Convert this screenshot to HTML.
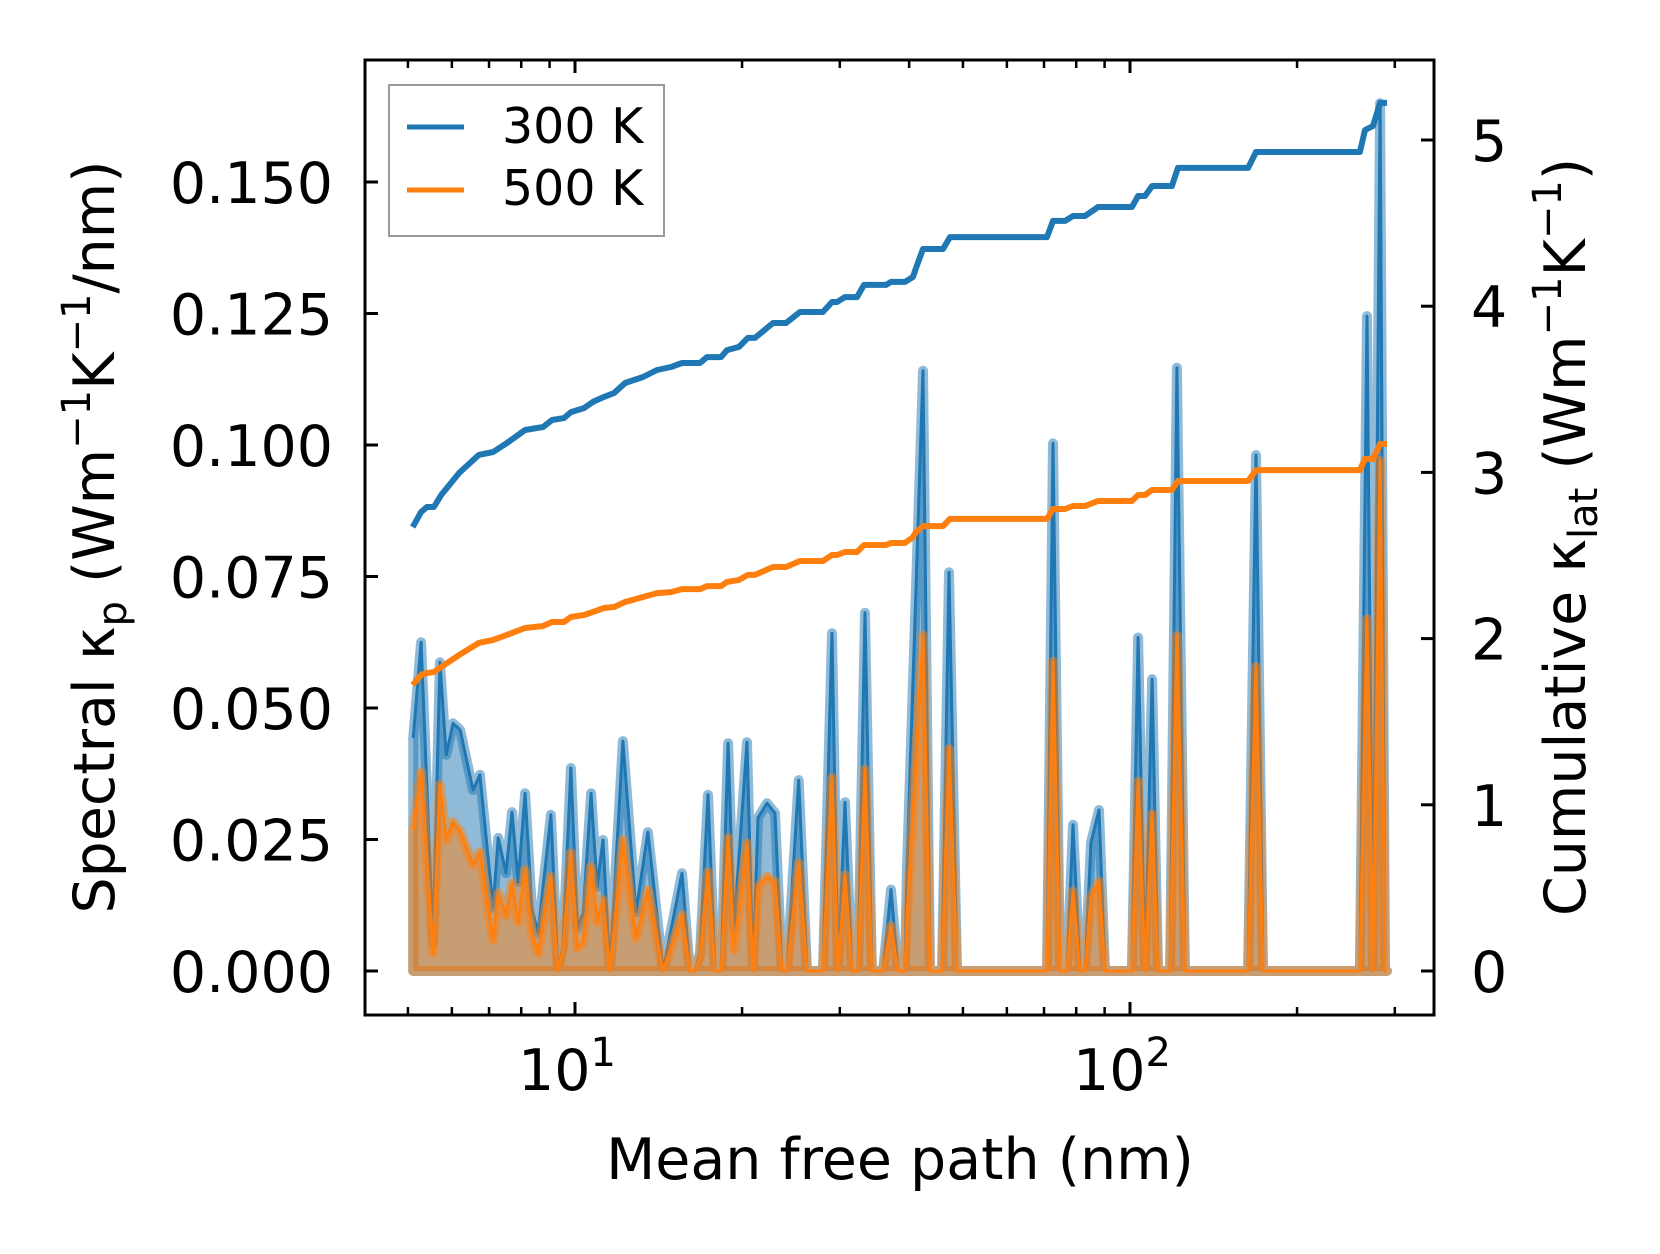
<!DOCTYPE html>
<html><head><meta charset="utf-8"><style>
html,body{margin:0;padding:0;background:#fff}
svg{display:block}
text{font-family:"DejaVu Sans","Liberation Sans",sans-serif;fill:#000}
</style></head><body>
<svg id="chart" width="1660" height="1254" viewBox="0 0 1660 1254" xmlns="http://www.w3.org/2000/svg">
<rect x="0" y="0" width="1660" height="1254" fill="#fff"/>
<g id="plot"></g>
<g id="axes"></g>
<g id="legend">
  <rect x="389" y="85" width="275" height="151" fill="#fff" fill-opacity="0.8" stroke="#999" stroke-width="2"/>
  <line x1="407" y1="127" x2="464" y2="127" stroke="#1f77b4" stroke-width="5"/>
  <text x="502" y="143" font-size="49">300 K</text>
  <line x1="407" y1="190" x2="464" y2="190" stroke="#ff7f0e" stroke-width="5"/>
  <text x="502" y="205" font-size="49">500 K</text>
</g>
<text x="900" y="1179" font-size="57" text-anchor="middle">Mean free path (nm)</text>
<text transform="translate(114,537) rotate(-90)" font-size="57" text-anchor="middle">Spectral κ<tspan font-size="40" dy="12">p</tspan><tspan dy="-12"> (Wm</tspan><tspan font-size="40" dy="-24">−1</tspan><tspan dy="24">K</tspan><tspan font-size="40" dy="-24">−1</tspan><tspan dy="24">/nm)</tspan></text>
<text transform="translate(1585,537) rotate(-90)" font-size="57" text-anchor="middle">Cumulative κ<tspan font-size="40" dy="12">lat</tspan><tspan dy="-12"> (Wm</tspan><tspan font-size="40" dy="-24">−1</tspan><tspan dy="24">K</tspan><tspan font-size="40" dy="-24">−1</tspan><tspan dy="24">)</tspan></text>
</svg>
<script>
// ---- data ----
const mfp = [5.11,5.28,5.55,5.71,5.86,6.03,6.21,6.55,6.74,7.12,7.27,7.51,7.70,7.90,8.13,8.36,8.58,9.05,9.32,9.51,9.83,10.1,10.34,10.69,10.96,11.23,11.56,12.2,12.88,13.53,14.41,15.59,16.11,16.45,16.80,17.36,17.88,18.33,18.87,19.34,20.41,20.93,21.37,22.18,22.93,23.60,24.10,25.3,26.18,27.97,29.05,29.78,30.66,31.56,32.35,33.31,34.28,35.89,37.10,38.19,39.31,39.64,42.36,43.61,45.84,47.19,48.78,70.87,72.65,74.79,77.0,78.93,81.26,82.97,85.06,87.92,90.16,100.8,103.4,106.4,109.6,112.3,118.1,121.5,125.6,163.2,168.7,173.6,259.6,267.3,274.1,282.2,288.1,290.5];
const spec300 = [0.0443,0.0625,0.0055,0.0587,0.0411,0.0471,0.0458,0.0344,0.0373,0.0120,0.0253,0.0186,0.0302,0.0169,0.0338,0.0120,0.0072,0.0297,0,0.0046,0.0386,0.0082,0.0110,0.0338,0.0160,0.0249,0,0.0437,0.0112,0.0264,0,0.0186,0,0,0.0034,0.0335,0,0,0.0433,0.0082,0.0435,0,0.0291,0.0319,0.0300,0,0,0.0363,0,0,0.0642,0,0.0321,0,0,0.0681,0,0,0.0155,0,0,0.0197,0.1141,0,0,0.0758,0,0,0.1003,0,0,0.0278,0,0,0.0244,0.0306,0,0,0.0634,0,0.0555,0,0,0.1147,0,0,0.0981,0,0,0.1245,0,0.165,0,0];
const spec500 = [0.0268,0.0378,0.0034,0.0354,0.0249,0.0283,0.0265,0.0202,0.0226,0.0059,0.0148,0.0106,0.0167,0.0093,0.0192,0.0072,0.0034,0.0179,0,0.0040,0.0224,0.0044,0.0055,0.0198,0.0093,0.0135,0,0.0249,0.0063,0.0154,0,0.0106,0,0,0.0027,0.0188,0,0,0.0253,0.0040,0.0243,0,0.0160,0.0179,0.0169,0,0,0.0205,0,0,0.0367,0,0.0182,0,0,0.0383,0,0,0.0085,0,0,0.0100,0.0638,0,0,0.0422,0,0,0.0588,0,0,0.0151,0,0,0.0140,0.0170,0,0,0.0360,0,0.0298,0,0,0.0637,0,0,0.0578,0,0,0.0669,0,0.097,0,0];
const cumMfp = [5.10,5.28,5.41,5.57,5.74,6.18,6.71,7.12,7.54,8.13,8.76,9.09,9.55,9.83,10.38,10.77,11.28,11.76,12.31,13.26,14.05,14.89,15.59,16.80,17.29,18.33,18.79,19.75,20.49,21.10,22.74,24.0,25.43,27.97,29.05,29.66,30.66,32.22,33.17,36.34,37.10,39.31,40.64,41.15,42.36,46.04,47.39,70.87,72.65,76.36,78.93,82.97,87.56,100.8,103.4,106.4,109.6,119.0,122.0,163.2,168.7,259.6,265.1,274.1,282.2,290.5];
const cum300 = [2.671,2.762,2.792,2.792,2.864,2.996,3.105,3.123,3.177,3.255,3.273,3.315,3.327,3.363,3.387,3.424,3.454,3.478,3.538,3.574,3.616,3.634,3.658,3.658,3.694,3.694,3.736,3.755,3.809,3.809,3.899,3.899,3.965,3.965,4.025,4.025,4.055,4.055,4.128,4.128,4.146,4.146,4.176,4.230,4.344,4.344,4.416,4.416,4.513,4.513,4.543,4.543,4.597,4.597,4.663,4.663,4.723,4.723,4.832,4.832,4.928,4.928,5.060,5.084,5.223,5.223];
const cum500 = [1.721,1.781,1.793,1.799,1.829,1.901,1.974,1.992,2.022,2.064,2.076,2.100,2.100,2.130,2.142,2.160,2.184,2.190,2.220,2.250,2.274,2.280,2.298,2.298,2.316,2.316,2.341,2.353,2.383,2.383,2.431,2.431,2.467,2.467,2.503,2.503,2.521,2.521,2.563,2.563,2.575,2.575,2.611,2.641,2.677,2.677,2.720,2.720,2.780,2.780,2.798,2.798,2.828,2.828,2.864,2.864,2.894,2.894,2.948,2.948,3.014,3.014,3.081,3.081,3.171,3.171];
const leftTicks = [0,0.025,0.05,0.075,0.1,0.125,0.15];
const leftTickLabels = ["0.000","0.025","0.050","0.075","0.100","0.125","0.150"];
const rightTicks = [0,1,2,3,4,5];
const xMajor = [10,100];
const xMajorExp = ["1","2"];
const xMinor = [5,6,7,8,9,20,30,40,50,60,70,80,90,200,300];

// ---- scales ----
const AX = {l:365, r:1434, t:60, b:1015};
function xS(v){ return 575 + 555*(Math.log10(v)-1); }
function yL(v){ return 971 - v*5260; }
function yR(v){ return 971 - v*166.2; }
const NS = "http://www.w3.org/2000/svg";
function mk(tag, attrs, parent){
  const e = document.createElementNS(NS, tag);
  for (const k in attrs) e.setAttribute(k, attrs[k]);
  parent.appendChild(e);
  return e;
}
const plot = document.getElementById('plot');
const axes = document.getElementById('axes');

function drawSpec(vals, color, nm){
  let pts = vals.map((v,i)=>xS(mfp[i]).toFixed(1)+','+yL(v).toFixed(1));
  const poly = [xS(mfp[0]).toFixed(1)+','+yL(0)].concat(pts, [xS(mfp[mfp.length-1]).toFixed(1)+','+yL(0)]);
  const p = mk('polygon', {points: poly.join(' '), fill: color, 'fill-opacity':0.5, stroke: color, 'stroke-opacity':0.5, 'stroke-width':10, 'stroke-linejoin':'round'}, plot);
  
  
  const l = mk('polyline', {points: pts.join(' '), fill:'none', stroke: color, 'stroke-width':3, 'stroke-linejoin':'round'}, plot);
  
  
}
drawSpec(spec300, '#1f77b4', 'spectral-300k');
drawSpec(spec500, '#ff7f0e', 'spectral-500k');

function drawCum(vals, color, nm){
  const pts = vals.map((v,i)=>xS(cumMfp[i]).toFixed(1)+','+yR(v).toFixed(1));
  const l = mk('polyline', {points: pts.join(' '), fill:'none', stroke: color, 'stroke-width':6, 'stroke-linejoin':'round'}, plot);
  
  
}
drawCum(cum300, '#1f77b4', 'cumulative-300k-line');
drawCum(cum500, '#ff7f0e', 'cumulative-500k-line');

// ---- axes ----
const frame = mk('rect', {x:AX.l, y:AX.t, width:AX.r-AX.l, height:AX.b-AX.t, fill:'none', stroke:'#000', 'stroke-width':3}, axes);



leftTicks.forEach((v,i)=>{
  const y = yL(v);
  const t = mk('line', {x1:AX.l, y1:y, x2:AX.l+13, y2:y, stroke:'#000', 'stroke-width':3}, axes);
  
  
  const tx = mk('text', {x:333, y:y+21, 'font-size':57, 'text-anchor':'end'}, axes);
  tx.textContent = leftTickLabels[i];
  
  
});
rightTicks.forEach(v=>{
  const y = yR(v);
  const t = mk('line', {x1:AX.r-13, y1:y, x2:AX.r, y2:y, stroke:'#000', 'stroke-width':3}, axes);
  
  
  const tx = mk('text', {x:1471, y:y+21, 'font-size':57}, axes);
  tx.textContent = String(v);
  
  
});
xMajor.forEach((v,i)=>{
  const x = xS(v);
  [[AX.b, AX.b-13],[AX.t, AX.t+13]].forEach(p=>{
    const t = mk('line', {x1:x, y1:p[0], x2:x, y2:p[1], stroke:'#000', 'stroke-width':3}, axes);
    
    
  });
  const tx = mk('text', {x:x-8, y:1090, 'font-size':57, 'text-anchor':'middle'}, axes);
  
  
  tx.appendChild(document.createTextNode('10'));
  const sup = mk('tspan', {'font-size':40, dy:-24}, tx);
  sup.textContent = xMajorExp[i];
});
xMinor.forEach(v=>{
  const x = xS(v);
  [[AX.b, AX.b-8],[AX.t, AX.t+8]].forEach(p=>{
    const t = mk('line', {x1:x, y1:p[0], x2:x, y2:p[1], stroke:'#000', 'stroke-width':2.5}, axes);
    
    
  });
});
</script>
</body></html>
